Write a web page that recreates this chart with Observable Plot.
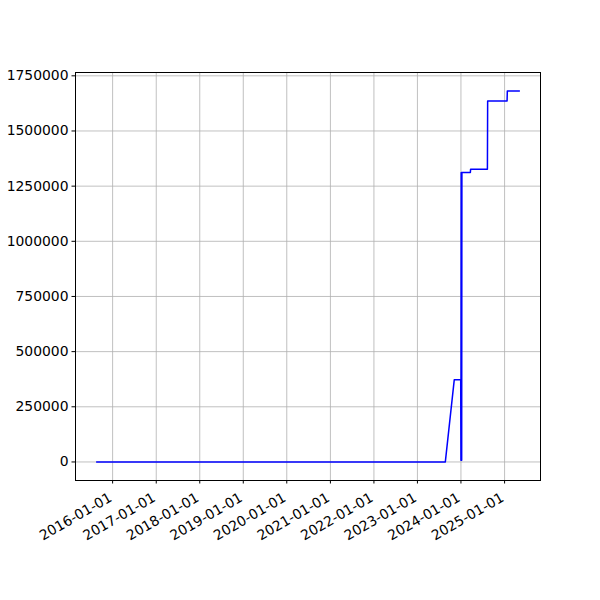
<!DOCTYPE html>
<html>
<head>
<meta charset="utf-8">
<script src="https://cdn.jsdelivr.net/npm/d3@7"></script>
<script src="https://cdn.jsdelivr.net/npm/@observablehq/plot@0.6"></script>
<style>
  html, body { margin: 0; padding: 0; background: #fff; }
  svg { font-family: "DejaVu Sans", sans-serif; }
</style>
</head>
<body>
<div id="chart"></div>
<script>
const dates = [
  "2015-08-20", "2023-08-23", "2023-11-06", "2023-12-30", "2024-01-01",
  "2024-01-03", "2024-01-07", "2024-01-09", "2024-01-12", "2024-03-20",
  "2024-03-22", "2024-08-10", "2024-08-12", "2025-01-22", "2025-01-24",
  "2025-05-05"
];
const values = [
  0, 0, 373000, 373000, 8000,
  1312000, 8000, 1312000, 1312000, 1312000,
  1327000, 1327000, 1636000, 1636000, 1681000,
  1681000
];
const xTicks = ["2016-01-01","2017-01-01","2018-01-01","2019-01-01","2020-01-01",
                "2021-01-01","2022-01-01","2023-01-01","2024-01-01","2025-01-01"];
const yTicks = [0, 250000, 500000, 750000, 1000000, 1250000, 1500000, 1750000];

const parse = d3.utcParse("%Y-%m-%d");
const data = dates.map((d, i) => ({date: parse(d), value: values[i]}));
const xt = xTicks.map(parse);

const [x0, x1] = d3.extent(data, d => d.date);
const xm = (x1 - x0) * 0.05;
const [y0, y1] = d3.extent(data, d => d.value);
const ym = (y1 - y0) * 0.05;

const chart = Plot.plot({
  width: 600,
  height: 600,
  marginLeft: 75,
  marginRight: 60,
  marginTop: 72,
  marginBottom: 120,
  style: {fontSize: "13.9px", fontFamily: "DejaVu Sans, sans-serif", color: "#000"},
  x: {type: "utc", domain: [new Date(+x0 - xm), new Date(+x1 + xm)]},
  y: {domain: [y0 - ym, y1 + ym]},
  marks: [
    Plot.gridX(xt, {stroke: "#b0b0b0", strokeOpacity: 1, strokeWidth: 0.8}),
    Plot.gridY(yTicks, {stroke: "#b0b0b0", strokeOpacity: 1, strokeWidth: 0.8}),
    Plot.axisX(xt, {tickFormat: d3.utcFormat("%Y-%m-%d"), tickRotate: -30, tickSize: 3.5, tickPadding: 3.5, label: null, fontSize: 13.9, color: "#000"}),
    Plot.axisY(yTicks, {tickFormat: d3.format("d"), tickSize: 3.5, tickPadding: 3.5, label: null, fontSize: 13.9}),
    Plot.line(data, {x: "date", y: "value", stroke: "#0000ff", strokeWidth: 1.5}),
    Plot.frame({stroke: "#000", strokeWidth: 1})
  ]
});
// shift rotated x tick labels down/left to match matplotlib's top-right anchoring
d3.select(chart).selectAll("g[aria-label='x-axis tick label']").attr("transform", function() {
  const t = d3.select(this).attr("transform") || "";
  return t + " translate(-2,9)";
});
document.getElementById("chart").appendChild(chart);
</script>
</body>
</html>
